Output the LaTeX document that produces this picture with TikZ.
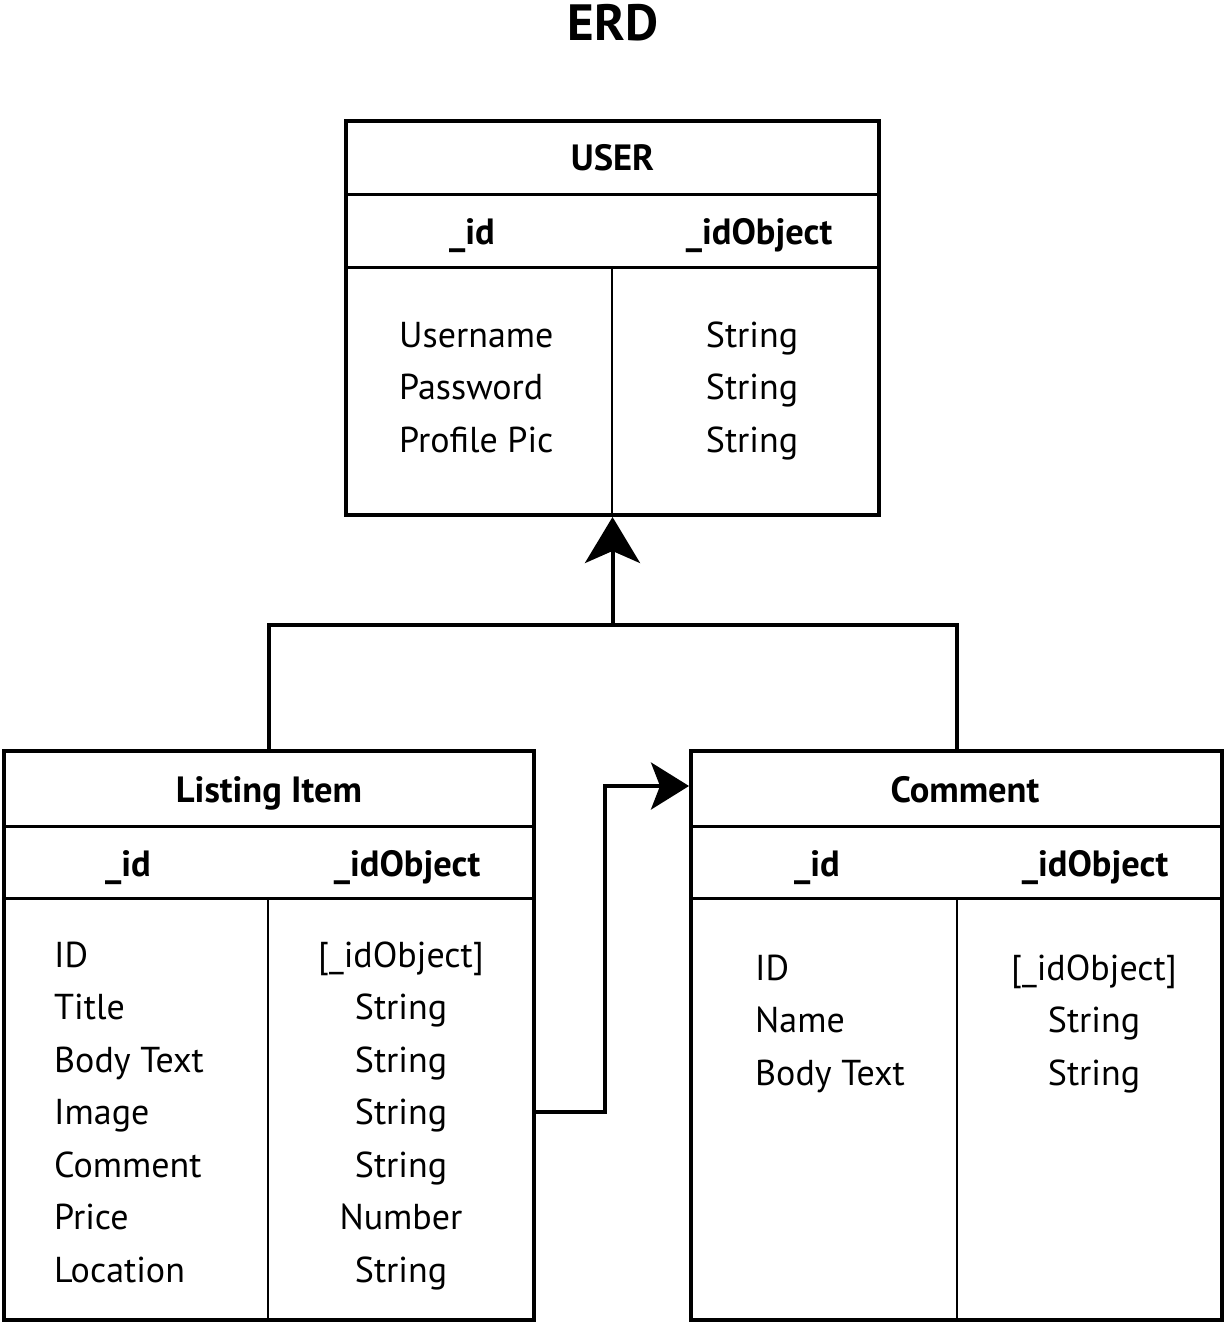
\documentclass[tikz,border=0pt]{standalone}
\usepackage{fontspec}
\setmainfont{PT Sans}
\usetikzlibrary{arrows.meta}
\tikzset{
  tbl/.style={draw, line width=4pt, rectangle, inner sep=0pt, minimum width=#1},
  sep/.style={line width=3pt},
  divider/.style={line width=2pt},
  conn/.style={line width=4pt},
  hdr/.style={font=\fontsize{36.5}{42}\selectfont\bfseries, anchor=base, inner sep=0pt},
  bodyl/.style={font=\fontsize{36}{42}\selectfont, anchor=base west, inner sep=0pt},
  bodyc/.style={font=\fontsize{36}{42}\selectfont, anchor=base, inner sep=0pt},
}
\begin{document}
\begin{tikzpicture}[x=1pt,y=-1pt]
\useasboundingbox (0,0) rectangle (1226,1324);
\node[font=\fontsize{51}{58}\selectfont\bfseries, anchor=base, inner sep=0pt] (title) at (613,41) {ERD};

% USER table
\node[tbl=533pt, minimum height=394pt] (user) at (612.5,318) {};
\draw[sep] (user.west |- 0,195) -- (user.east |- 0,195);
\draw[sep] (user.west |- 0,267) -- (user.east |- 0,267);
\draw[divider] (612,267) -- (user.south -| 612,0);
\node[hdr] (uname) at (612.5,171) {USER};
\node[hdr] (uid) at (472,244) {\_id};
\node[hdr] (uobj) at (759,244) {\_idObject};
\node[bodyl] (u1) at (399,347) {Username};
\node[bodyl] (u2) at (399,399.5) {Password};
\node[bodyl] (u3) at (399,452) {Profile Pic};
\node[bodyc] (u1t) at (752,347) {String};
\node[bodyc] (u2t) at (752,399.5) {String};
\node[bodyc] (u3t) at (752,452) {String};

% Listing Item table
\node[tbl=530pt, minimum height=569pt] (list) at (269,1035.5) {};
\draw[sep] (list.west |- 0,826) -- (list.east |- 0,826);
\draw[sep] (list.west |- 0,898) -- (list.east |- 0,898);
\draw[divider] (268,898) -- (list.south -| 268,0);
\node[hdr] (lname) at (269,802) {Listing Item};
\node[hdr] (lid) at (128,876) {\_id};
\node[hdr] (lobj) at (407,876) {\_idObject};
\foreach \t/\v [count=\i from 0] in {ID/{[\_idObject]},Title/String,Body Text/String,Image/String,Comment/String,Price/Number,Location/String}{
  \node[bodyl] (l\i) at (54,967+52.5*\i) {\t};
  \node[bodyc] (l\i t) at (401,967+52.5*\i) {\v};
}

% Comment table
\node[tbl=531pt, minimum height=569pt] (comment) at (956.5,1035.5) {};
\draw[sep] (comment.west |- 0,826) -- (comment.east |- 0,826);
\draw[sep] (comment.west |- 0,898) -- (comment.east |- 0,898);
\draw[divider] (957,898) -- (comment.south -| 957,0);
\node[hdr] (cname) at (965,802) {Comment};
\node[hdr] (cid) at (817,876) {\_id};
\node[hdr] (cobj) at (1095,876) {\_idObject};
\foreach \t/\v [count=\i from 0] in {ID/{[\_idObject]},Name/String,Body Text/String}{
  \node[bodyl] (c\i) at (755,980+52.5*\i) {\t};
  \node[bodyc] (c\i t) at (1094,980+52.5*\i) {\v};
}

% connectors
\coordinate (join) at (612.5,625);
\draw[conn] (list.north) |- (join) -| (comment.north);
\draw[conn, -{Stealth[length=46pt,width=55pt,inset=12pt]}] (join) -- (user.south);
\coordinate (bend) at (605,1112);
\draw[conn, -{Stealth[length=38pt,width=47pt,inset=9pt]}] (list.east |- bend) -- (bend) |- (comment.west |- 0,786);
\end{tikzpicture}
\end{document}
